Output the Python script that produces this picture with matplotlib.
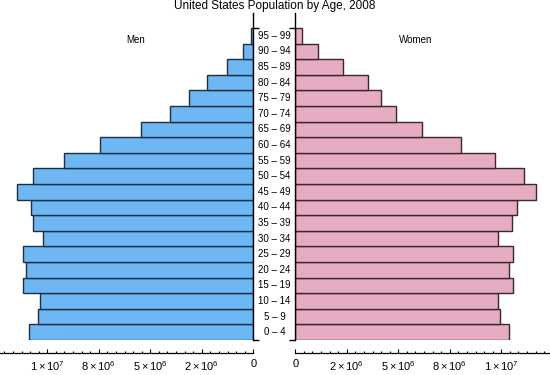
import matplotlib
matplotlib.use("Agg")
import matplotlib.pyplot as plt
import matplotlib.transforms as mtransforms
from matplotlib.ticker import FixedLocator, FixedFormatter, MultipleLocator

# ── data (millions of people) ──
age_groups = ["0 – 4", "5 – 9", "10 – 14", "15 – 19", "20 – 24", "25 – 29", "30 – 34",
              "35 – 39", "40 – 44", "45 – 49", "50 – 54", "55 – 59", "60 – 64", "65 – 69",
              "70 – 74", "75 – 79", "80 – 84", "85 – 89", "90 – 94", "95 – 99"]
men = [10.87, 10.44, 10.34, 11.17, 11.02, 11.17, 10.19, 10.68, 10.78, 11.46,
       10.68, 9.17, 7.43, 5.44, 4.03, 3.11, 2.23, 1.26, 0.49, 0.12]
women = [10.39, 9.95, 9.85, 10.58, 10.39, 10.58, 9.85, 10.53, 10.78, 11.70,
         11.12, 9.71, 8.06, 6.17, 4.90, 4.17, 3.54, 2.33, 1.12, 0.34]

tick_values = [0, 2.5e6, 5e6, 7.5e6, 1e7]
tick_labels = ["0", r"$2\times10^{6}$", r"$5\times10^{6}$", r"$8\times10^{6}$", r"$1\times10^{7}$"]

plt.rcParams["font.family"] = ["Liberation Sans", "DejaVu Sans"]
plt.rcParams["mathtext.fontset"] = "custom"
plt.rcParams["mathtext.rm"] = "Liberation Sans"
plt.rcParams["mathtext.it"] = "Liberation Sans:italic"

W, H = 550, 375
fig = plt.figure(figsize=(5.5, 3.75), dpi=100)

bar_top, bar_bot, spine_top = 28, 340, 13
n = len(age_groups)
ytop = n * (bar_bot - spine_top) / (bar_bot - bar_top)
bottom = 1 - bar_bot / H
height = (bar_bot - spine_top) / H

ax_l = fig.add_axes([0, bottom, 253.3 / W, height])
ax_r = fig.add_axes([295.3 / W, bottom, (W - 295.3) / W, height])

ypos = [i + 0.5 for i in range(n)]
ax_l.barh(ypos, [v * 1e6 for v in men], height=1.0, color="#6db7f2",
          edgecolor="#1e2f45", linewidth=1.0)
ax_r.barh(ypos, [v * 1e6 for v in women], height=1.0, color="#e6adc2",
          edgecolor="#3a2530", linewidth=1.0)

xmax_l = 253.3 / 20.6 * 1e6
xmax_r = (W - 295.3) / 20.6 * 1e6
ax_l.set_xlim(xmax_l, 0)
ax_r.set_xlim(0, xmax_r)

for ax, side in ((ax_l, "right"), (ax_r, "left")):
    ax.set_ylim(0, ytop)
    ax.patch.set_visible(False)
    for s in ("top", "left", "right"):
        ax.spines[s].set_visible(s == side)
    ax.spines[side].set_linewidth(1.0)
    ax.spines["bottom"].set_position(("outward", 9.4))
    ax.spines["bottom"].set_linewidth(0.9)
    ax.yaxis.set_ticks_position(side)
    ax.set_yticks([0, n])
    ax.set_yticklabels([])
    ax.tick_params(axis="y", direction="out", length=4, width=1.0)
    ax.xaxis.set_major_locator(FixedLocator(tick_values))
    ax.xaxis.set_major_formatter(FixedFormatter(tick_labels))
    ax.xaxis.set_minor_locator(MultipleLocator(2.5e6 / 6))
    ax.tick_params(axis="x", which="major", direction="in", length=3.2, width=0.8,
                   pad=4.5, labelsize=8)
    ax.tick_params(axis="x", which="minor", direction="in", length=1.8, width=0.8)

# age labels in the gap between the two halves
trans = mtransforms.blended_transform_factory(fig.transFigure, ax_l.transData)
for y, lab in zip(ypos, age_groups):
    ax_l.text(274.5 / W, y, lab, transform=trans, ha="center", va="center",
              fontsize=7, clip_on=False)

fig.text(0.5, 1 - 6 / H, "United States Population by Age, 2008",
         ha="center", va="center", fontsize=8.5)
fig.text(136 / W, 1 - 40 / H, "Men", ha="center", va="center", fontsize=7)
fig.text(416 / W, 1 - 40 / H, "Women", ha="center", va="center", fontsize=7)

fig.savefig("out.png", dpi=100)
